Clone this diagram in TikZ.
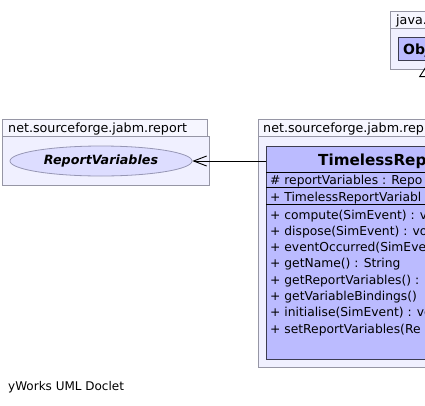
\documentclass[tikz,border=0pt]{standalone}
\usepackage{fontspec}
\setmainfont{DejaVu Sans}
\usetikzlibrary{shapes.geometric,arrows.meta}
\definecolor{pkgfill}{RGB}{240,240,255}
\definecolor{tabfill}{RGB}{246,246,255}
\definecolor{pkgline}{RGB}{150,150,165}
\definecolor{clsfill}{RGB}{187,187,255}
\definecolor{clsline}{RGB}{60,60,80}
\definecolor{ifill}{RGB}{221,221,255}
\definecolor{iline}{RGB}{150,150,180}
\begin{document}
\begin{tikzpicture}[x=1pt,y=-1pt,
  box/.style={anchor=north west,inner sep=0pt,outer sep=0pt},
  pkgbody/.style={box,draw=pkgline,fill=pkgfill,line width=0.8pt},
  pkgtab/.style={box,draw=pkgline,fill=tabfill,line width=0.8pt},
  clsbox/.style={box,draw=clsline,fill=clsfill,line width=0.9pt},
  txt/.style={anchor=base west,inner sep=0pt,font=\fontsize{12.3}{14}\selectfont},
  pkt/.style={anchor=base west,inner sep=0pt,font=\fontsize{12.7}{14}\selectfont},
  ttl/.style={anchor=base west,inner sep=0pt,font=\fontsize{15.2}{17}\selectfont\bfseries},
  sep/.style={draw=black,line width=0.8pt},
  dep/.style={draw=black,line width=0.9pt,-{Straight Barb[length=13pt,width=10pt,line width=0.9pt]}},
  inh/.style={draw=black,line width=0.9pt,-{Triangle[open,length=11pt,width=14pt,line width=0.9pt]}}]
\useasboundingbox (0,0) rectangle (425,405);
\fill[white] (0,0) rectangle (425,405);
\clip (0,0) rectangle (425,405);

% java package (top right)
\node[pkgbody,minimum width=90pt,minimum height=41pt] (jbody) at (390,28) {};
\node[pkgtab,minimum width=80pt,minimum height=17pt] (jtab) at (390,11) {};
\node[pkt] (jtxt) at (396,24) {java.};
\node[clsbox,minimum width=72pt,minimum height=23pt] (obj) at (398,37) {};
\node[ttl,font=\fontsize{14}{16}\selectfont\bfseries] (objtxt) at (403,54) {Obj};

% left package
\node[pkgbody,minimum width=207pt,minimum height=49pt] (lbody) at (2,136) {};
\node[pkgtab,minimum width=205pt,minimum height=17pt] (ltab) at (2,119) {};
\node[pkt] (ltxt) at (8,132) {net.sourceforge.jabm.report};
\node[ellipse,draw=iline,fill=ifill,line width=0.8pt,minimum width=182pt,minimum height=30pt,inner sep=0pt,
      font=\fontsize{12.7}{15}\selectfont\bfseries\itshape] (rv) at (101,161) {ReportVariables};

% right package
\node[pkgbody,minimum width=220pt,minimum height=231pt] (rbody) at (258,136) {};
\node[pkgtab,minimum width=200pt,minimum height=17pt] (rtab) at (258,119) {};
\node[pkt] (rtxt) at (263,132) {net.sourceforge.jabm.rep};

% class
\node[clsbox,minimum width=200pt,minimum height=213pt] (tr) at (266,146) {};
\node[ttl] (trt) at (318,165.5) {TimelessRep};
\coordinate (s1) at (266,172);
\coordinate (s2) at (266,187.5);
\coordinate (s3) at (266,204);
\draw[sep] (s1) -- (s1 -| tr.east);
\draw[sep] (s2) -- (s2 -| tr.east);
\draw[sep] (s3) -- (s3 -| tr.east);
\node[txt] (m0) at (270,184.5) {\# reportVariables : Repo};
\node[txt] (m1) at (270,201) {+ TimelessReportVariabl};
\node[txt] (m2) at (270,219) {+ compute(SimEvent) : v};
\node[txt] (m3) at (270,235.3) {+ dispose(SimEvent) : vo};
\node[txt] (m4) at (270,251.6) {+ eventOccurred(SimEve};
\node[txt] (m5) at (270,267.9) {+ getName() : String};
\node[txt] (m6) at (270,284.2) {+ getReportVariables() :};
\node[txt] (m7) at (270,300.5) {+ getVariableBindings()};
\node[txt] (m8) at (270,316.8) {+ initialise(SimEvent) : vo};
\node[txt] (m9) at (270,333.1) {+ setReportVariables(Re};

% connectors
\draw[dep] (tr.north west |- rv.east) -- (rv.east);
\coordinate (ip) at (426,66);
\draw[inh] (tr.north -| ip) -- (ip);

% footer
\node[txt,font=\fontsize{12}{14}\selectfont] (foot) at (8,390) {yWorks UML Doclet};
\end{tikzpicture}
\end{document}
